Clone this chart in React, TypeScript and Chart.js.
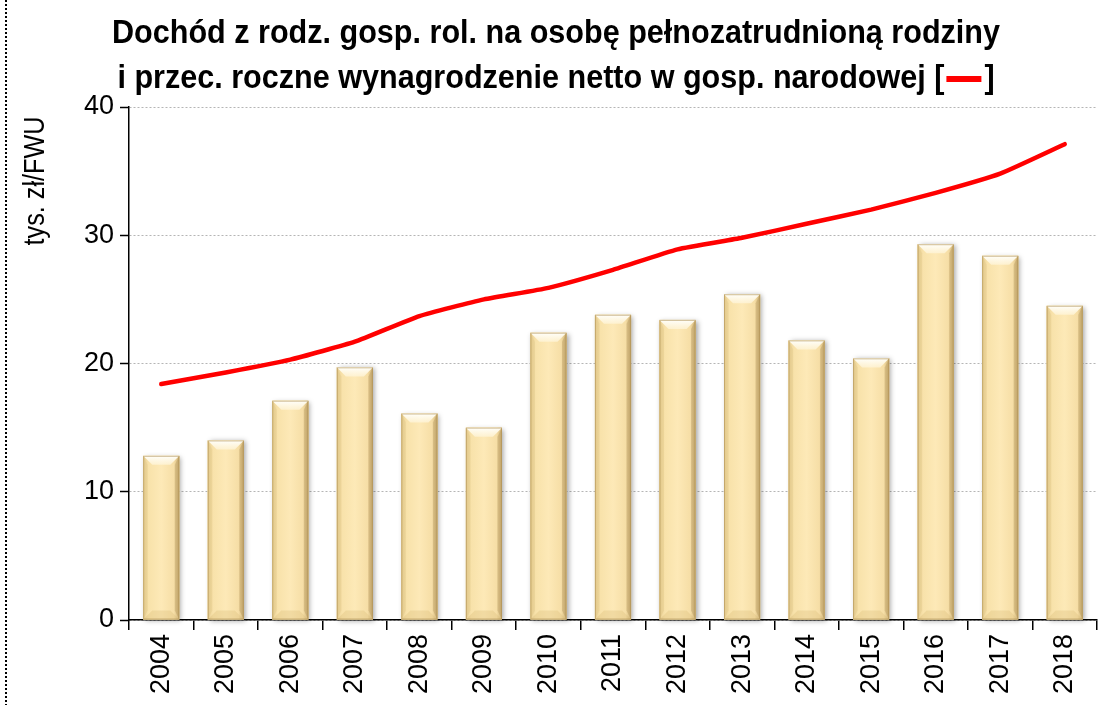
import React, { useEffect, useRef } from "react";
import { Chart, registerables } from "chart.js";

Chart.register(...registerables);

const years = ["2004", "2005", "2006", "2007", "2008", "2009", "2010", "2011", "2012", "2013", "2014", "2015", "2016", "2017", "2018"];
const farmIncome = [12.8, 14.0, 17.1, 19.7, 16.1, 15.0, 22.4, 23.8, 23.4, 25.4, 21.8, 20.4, 29.3, 28.4, 24.5];
const netWage = [18.4, 19.3, 20.3, 21.7, 23.7, 25.0, 25.9, 27.3, 28.9, 29.8, 30.9, 32.0, 33.3, 34.8, 37.1];
const yMin = 0;
const yMax = 40;
const yStep = 10;

const titleLine1 = "Dochód z rodz. gosp. rol. na osobę pełnozatrudnioną rodziny";
const titleLine2 = "i przec. roczne wynagrodzenie netto w gosp. narodowej [";
const titleEnd = "]";
const yAxisTitle = "tys. zł/FWU";

const FONT = "'Liberation Sans', Arial, sans-serif";

const decorPlugin = {
  id: "decor",
  beforeDatasetDraw(chart: any, args: any) {
    if (args.meta.type !== "bar") return;
    const ctx = chart.ctx;
    ctx.save();
    args.meta.data.forEach((el: any) => {
      const { x, y, base, width } = el.getProps(["x", "y", "base", "width"], true);
      const l = x - width / 2;
      ctx.shadowColor = "rgba(0,0,0,0.35)";
      ctx.shadowBlur = 5;
      ctx.shadowOffsetX = 2;
      ctx.shadowOffsetY = 1;
      ctx.fillStyle = "#EED8A0";
      ctx.fillRect(l, y, width, base - y);
    });
    ctx.restore();
  },
  afterDatasetDraw(chart: any, args: any) {
    if (args.meta.type !== "bar") return;
    const ctx = chart.ctx;
    ctx.save();
    args.meta.data.forEach((el: any) => {
      const { x, y, base, width } = el.getProps(["x", "y", "base", "width"], true);
      const l = x - width / 2;
      const r = x + width / 2;
      const t = y;
      const b = base;
      const bv = Math.min(10, width / 4, (b - t) / 3);
      const g = ctx.createLinearGradient(l, 0, r, 0);
      g.addColorStop(0, "#E8CF94");
      g.addColorStop(0.15, "#F8E2AA");
      g.addColorStop(0.5, "#FDE9B7");
      g.addColorStop(0.85, "#F6DEA6");
      g.addColorStop(1, "#CDB176");
      ctx.fillStyle = g;
      ctx.fillRect(l, t, width, b - t);
      // top bevel
      const tg = ctx.createLinearGradient(0, t, 0, t + bv);
      tg.addColorStop(0, "rgba(255,255,252,1)");
      tg.addColorStop(1, "rgba(255,246,220,0.7)");
      ctx.fillStyle = tg;
      ctx.beginPath();
      ctx.moveTo(l, t);
      ctx.lineTo(r, t);
      ctx.lineTo(r - bv, t + bv);
      ctx.lineTo(l + bv, t + bv);
      ctx.closePath();
      ctx.fill();
      // left bevel
      ctx.fillStyle = "rgba(200,170,100,0.18)";
      ctx.beginPath();
      ctx.moveTo(l, t);
      ctx.lineTo(l + bv * 0.5, t + bv);
      ctx.lineTo(l + bv * 0.5, b - bv);
      ctx.lineTo(l, b);
      ctx.closePath();
      ctx.fill();
      // right bevel
      ctx.fillStyle = "rgba(140,110,50,0.22)";
      ctx.beginPath();
      ctx.moveTo(r, t);
      ctx.lineTo(r - bv * 0.5, t + bv);
      ctx.lineTo(r - bv * 0.5, b - bv);
      ctx.lineTo(r, b);
      ctx.closePath();
      ctx.fill();
      // bottom bevel
      ctx.fillStyle = "rgba(215,185,115,0.3)";
      ctx.beginPath();
      ctx.moveTo(l, b);
      ctx.lineTo(l + bv, b - bv);
      ctx.lineTo(r - bv, b - bv);
      ctx.lineTo(r, b);
      ctx.closePath();
      ctx.fill();
      ctx.strokeStyle = "rgba(175,145,85,0.6)";
      ctx.lineWidth = 1;
      ctx.strokeRect(l + 0.5, t + 0.5, width - 1, b - t - 1);
    });
    ctx.restore();
  },
  afterDraw(chart: any) {
    const ctx = chart.ctx;
    ctx.save();
    // dotted left border
    ctx.strokeStyle = "#000";
    ctx.lineWidth = 2;
    ctx.setLineDash([2, 2]);
    ctx.beginPath();
    ctx.moveTo(6, 0);
    ctx.lineTo(6, chart.height);
    ctx.stroke();
    ctx.setLineDash([]);
    // title (condensed)
    const cx = 556;
    ctx.fillStyle = "#000";
    ctx.font = "bold 33px " + FONT;
    ctx.textBaseline = "alphabetic";
    const w1 = ctx.measureText(titleLine1).width;
    const sc = 888 / w1;
    ctx.save();
    ctx.translate(cx, 43);
    ctx.scale(sc, 1);
    ctx.textAlign = "center";
    ctx.fillText(titleLine1, 0, 0);
    ctx.restore();
    const w2 = ctx.measureText(titleLine2).width * sc;
    const wEnd = ctx.measureText(titleEnd).width * sc;
    const dashW = 40;
    const total = w2 + dashW + wEnd;
    let sx = cx - total / 2;
    ctx.save();
    ctx.translate(sx, 88);
    ctx.scale(sc, 1);
    ctx.textAlign = "left";
    ctx.fillText(titleLine2, 0, 0);
    ctx.restore();
    sx += w2;
    ctx.strokeStyle = "#FF0000";
    ctx.lineWidth = 6;
    ctx.beginPath();
    ctx.moveTo(sx + 2, 79);
    ctx.lineTo(sx + dashW - 3, 79);
    ctx.stroke();
    ctx.save();
    ctx.translate(sx + dashW, 88);
    ctx.scale(sc, 1);
    ctx.textAlign = "left";
    ctx.fillText(titleEnd, 0, 0);
    ctx.restore();
    // y axis title (condensed)
    ctx.translate(36, 181);
    ctx.rotate(-Math.PI / 2);
    ctx.scale(0.84, 1);
    ctx.textAlign = "center";
    ctx.textBaseline = "middle";
    ctx.font = "30px " + FONT;
    ctx.fillText(yAxisTitle, 0, 0);
    ctx.restore();
  },
};

export default function App() {
  const ref = useRef<HTMLCanvasElement | null>(null);
  useEffect(() => {
    if (!ref.current) return;
    const chart = new Chart(ref.current, {
      type: "bar",
      data: {
        labels: years,
        datasets: [
          {
            type: "line",
            label: "Wynagrodzenie netto",
            data: netWage,
            borderColor: "#FF0000",
            borderWidth: 4.5,
            borderCapStyle: "round",
            borderJoinStyle: "round",
            pointRadius: 0,
            tension: 0.15,
            fill: false,
            order: 1,
          } as any,
          {
            type: "bar",
            label: "Dochód",
            data: farmIncome,
            backgroundColor: "#F9E3AE",
            borderWidth: 0,
            barPercentage: 0.56,
            categoryPercentage: 1,
            order: 2,
          },
        ],
      },
      options: {
        responsive: false,
        animation: false,
        layout: { padding: { top: 107, right: 9, left: 0, bottom: 0 } },
        plugins: {
          legend: { display: false },
          title: { display: false },
          tooltip: { enabled: false },
        },
        scales: {
          x: {
            grid: {
              display: true,
              drawOnChartArea: false,
              offset: true,
              tickLength: 10,
              color: "#000",
              lineWidth: 1.5,
            },
            border: { color: "#000", width: 1.5 },
            ticks: {
              minRotation: 90,
              maxRotation: 90,
              color: "#000",
              padding: 4,
              font: { family: FONT, size: 27 },
            },
            afterFit: (s: any) => {
              s.height = 85;
            },
          },
          y: {
            min: yMin,
            max: yMax,
            ticks: {
              stepSize: yStep,
              color: "#000",
              padding: 6,
              font: { family: FONT, size: 27 },
            },
            grid: {
              color: "#b5b5b5",
              lineWidth: 1,
              tickColor: "#000",
              tickLength: 9,
              tickWidth: 1.5,
            },
            border: { color: "#000", width: 1.5, dash: [2, 2] },
            afterFit: (s: any) => {
              s.width = 129;
            },
          },
        },
      },
      plugins: [decorPlugin],
    });
    return () => chart.destroy();
  }, []);
  return (
    <canvas
      ref={ref}
      width={1106}
      height={705}
      style={{ position: "absolute", left: 0, top: 0, display: "block", background: "#fff" }}
    />
  );
}
